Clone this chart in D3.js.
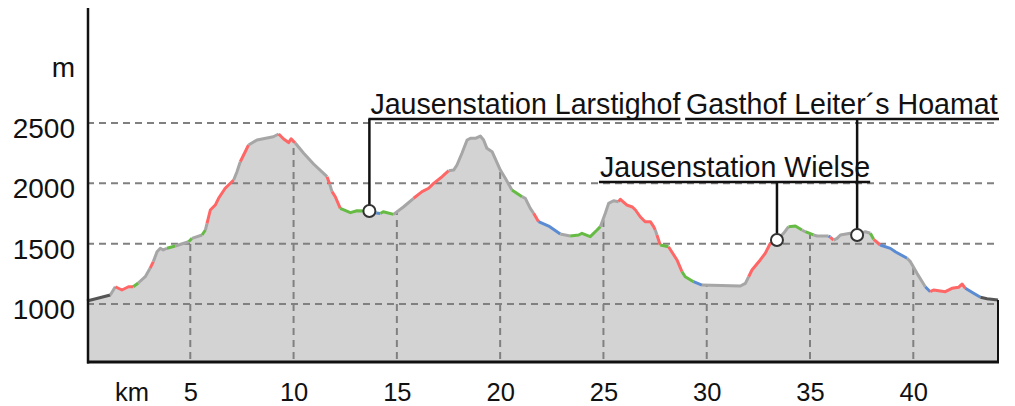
<!DOCTYPE html>
<html>
<head>
<meta charset="utf-8">
<script src="https://cdn.jsdelivr.net/npm/d3@7"></script>
<style>
  body { margin: 0; background: #fff; }
  svg { display: block; font-family: "Liberation Sans", Arial, sans-serif; }
</style>
</head>
<body>
<svg id="profile"></svg>
<script>
// ===============================
// Data
// ===============================
const distKm = [
  0, 1.13, 1.37, 1.69, 2.01, 2.24, 2.48, 2.82, 3.06, 3.21, 3.39, 3.55, 3.69, 3.87, 4.27,
  4.92, 5.08, 5.57, 5.73, 5.81, 5.97, 6.21, 6.37, 6.69, 7.10, 7.26, 7.42, 7.66, 7.82, 8.23,
  9.02, 9.28, 9.52, 9.76, 9.88, 10.08, 10.49, 10.97, 11.62, 11.75, 11.86, 12.02, 12.26, 12.75, 13.07,
  13.67, 14.0, 14.2, 14.34, 14.84, 15.33, 15.81, 16.22, 16.54, 16.78, 17.19, 17.51, 17.75, 17.91, 18.15,
  18.40, 18.56, 18.80, 19.04, 19.20, 19.36, 19.61, 20.01, 20.25, 20.57, 21.06, 21.22, 21.46, 21.62, 21.86,
  22.35, 22.91, 23.39, 23.80, 23.96, 24.36, 24.69, 24.85, 25.09, 25.25, 25.49, 25.73, 25.82, 26.14, 26.40,
  26.55, 26.78, 27.02, 27.27, 27.43, 27.51, 27.59, 27.75, 28.15, 28.56, 28.80, 28.96, 29.36, 29.77, 31.63,
  31.87, 32.03, 32.19, 32.59, 32.83, 33.08, 33.40, 33.72, 33.96, 34.29, 34.61, 34.77, 35.17, 35.34, 35.90,
  35.98, 36.14, 36.31, 36.47, 36.95, 37.28, 37.68, 37.92, 38.08, 38.40, 38.89, 39.13, 39.70, 39.86, 40.18,
  40.58, 40.82, 40.98, 41.55, 41.87, 42.19, 42.36, 42.52, 42.92, 43.25, 43.57, 44.10
];

const elevM = [
  1025, 1075, 1143, 1116, 1143, 1143, 1174, 1226, 1298, 1351, 1433, 1462, 1448, 1462, 1481,
  1516, 1544, 1572, 1613, 1669, 1779, 1820, 1876, 1959, 2028, 2096, 2179, 2262, 2318, 2359,
  2386, 2409, 2367, 2338, 2369, 2334, 2249, 2160, 2055, 1994, 1931, 1889, 1793, 1757, 1773,
  1771, 1754, 1750, 1765, 1743, 1806, 1876, 1931, 1959, 2000, 2055, 2105, 2110, 2152, 2249,
  2359, 2373, 2373, 2392, 2359, 2290, 2262, 2110, 2042, 1945, 1889, 1876, 1793, 1752, 1682,
  1646, 1580, 1564, 1572, 1586, 1558, 1613, 1641, 1752, 1834, 1856, 1848, 1868, 1820, 1804,
  1779, 1723, 1682, 1682, 1641, 1613, 1572, 1489, 1475, 1365, 1268, 1226, 1185, 1157, 1149,
  1171, 1226, 1282, 1365, 1420, 1503, 1530, 1586, 1641, 1646, 1613, 1599, 1572, 1564, 1564,
  1555, 1530, 1544, 1572, 1586, 1572, 1599, 1586, 1536, 1489, 1461, 1433, 1379, 1351, 1254,
  1143, 1102, 1116, 1102, 1130, 1138, 1166, 1130, 1089, 1056, 1044, 1033
];

// surface of the segment that starts at each point
// D asphalt, G gravel, R trail, N meadow path, B forest road
const surface = [
  "D", "G", "R", "R", "R", "N", "G", "G", "R", "G", "G", "G", "G", "N", "G",
  "N", "G", "N", "G", "R", "R", "R", "R", "R", "G", "G", "R", "R", "G", "G",
  "G", "R", "R", "R", "R", "G", "G", "G", "R", "G", "R", "R", "N", "N", "N",
  "N", "B", "N", "N", "G", "G", "R", "R", "R", "R", "R", "G", "G", "G", "G",
  "G", "G", "G", "G", "G", "G", "G", "G", "G", "N", "G", "G", "G", "R", "B",
  "B", "G", "N", "N", "N", "N", "N", "G", "G", "G", "G", "R", "R", "R", "R",
  "R", "R", "R", "R", "R", "G", "R", "N", "R", "R", "N", "N", "B", "G", "G",
  "G", "R", "R", "R", "R", "R", "G", "G", "N", "N", "G", "N", "G", "G", "B",
  "R", "G", "G", "G", "G", "G", "G", "N", "R", "B", "B", "B", "G", "G", "G",
  "B", "R", "R", "R", "R", "R", "R", "B", "B", "D", "D", "D"
];

const xTicks = [5, 10, 15, 20, 25, 30, 35, 40];
const yTicks = [1000, 1500, 2000, 2500];

const stopNames = ["Jausenstation Larstighof", "Jausenstation Wielse", "Gasthof Leiter´s Hoamatl"];
const stopKm = [13.67, 33.40, 37.28];

// ===============================
// Layout
// ===============================
const width = 1015, height = 406;
const colors = { D: "#555555", G: "#a6a6a6", R: "#ff6666", N: "#66bb44", B: "#5b8bd3" };
// label placement: text left offset from leader, baseline y
const labelLayout = [
  { dx: 1, y: 114 },
  { dx: -177, y: 177 },
  { dx: -171, y: 114 }
];

const svg = d3.select("#profile").attr("width", width).attr("height", height);

const x = d3.scaleLinear().domain([0, 44.1]).range([87, 998]);
const y = d3.scaleLinear().domain([1000, 2500]).range([304, 123]);
const yBottom = 362;

const pts = distKm.map((d, i) => ({ km: d, el: elevM[i], s: surface[i] }));

// Area
const area = d3.area()
    .x(d => x(d.km))
    .y0(yBottom)
    .y1(d => y(d.el));

svg.append("clipPath").attr("id", "areaClip")
  .append("path").attr("d", area(pts));

svg.append("path")
    .attr("d", area(pts))
    .attr("fill", "#d3d3d3");

// Horizontal grid
svg.append("g")
  .selectAll("line")
  .data(yTicks)
  .join("line")
    .attr("x1", x(0)).attr("x2", x(44.1))
    .attr("y1", d => y(d)).attr("y2", d => y(d))
    .attr("stroke", "#808080")
    .attr("stroke-width", 2)
    .attr("stroke-dasharray", "7,5");

// Vertical grid (inside the profile only)
svg.append("g")
    .attr("clip-path", "url(#areaClip)")
  .selectAll("line")
  .data(xTicks)
  .join("line")
    .attr("x1", d => x(d)).attr("x2", d => x(d))
    .attr("y1", 100).attr("y2", yBottom)
    .attr("stroke", "#808080")
    .attr("stroke-width", 2)
    .attr("stroke-dasharray", "7,5");

// Profile line, one path per run of equal surface
const runs = [];
for (let i = 0; i < pts.length - 1; i++) {
    const last = runs[runs.length - 1];
    if (last && last.s === pts[i].s) last.pts.push(pts[i + 1]);
    else runs.push({ s: pts[i].s, pts: [pts[i], pts[i + 1]] });
}

const line = d3.line().x(d => x(d.km)).y(d => y(d.el));

svg.append("g")
  .selectAll("path")
  .data(runs)
  .join("path")
    .attr("d", d => line(d.pts))
    .attr("fill", "none")
    .attr("stroke", d => colors[d.s])
    .attr("stroke-width", 3)
    .attr("stroke-linejoin", "round");

// Axes lines
const endPt = pts[pts.length - 1];
svg.append("line")
    .attr("x1", 88).attr("x2", 88).attr("y1", 8).attr("y2", yBottom + 1.5)
    .attr("stroke", "#111").attr("stroke-width", 2.5);
svg.append("line")
    .attr("x1", 87).attr("x2", x(endPt.km) + 1).attr("y1", yBottom).attr("y2", yBottom)
    .attr("stroke", "#111").attr("stroke-width", 3);
svg.append("line")
    .attr("x1", x(endPt.km)).attr("x2", x(endPt.km)).attr("y1", y(endPt.el)).attr("y2", yBottom)
    .attr("stroke", "#111").attr("stroke-width", 2);

// Y axis labels
const yAxis = svg.append("g")
    .attr("transform", "translate(88,0)")
    .call(d3.axisLeft(y).tickValues(yTicks).tickSize(0).tickPadding(13).tickFormat(d3.format("d")));
yAxis.select(".domain").remove();
yAxis.selectAll("text")
    .attr("dy", "0.52em")
    .attr("font-size", 28)
    .attr("font-family", "'Liberation Sans', Arial, sans-serif")
    .attr("fill", "#111");

svg.append("text")
    .attr("x", 75).attr("y", 77)
    .attr("text-anchor", "end")
    .attr("font-size", 28).attr("fill", "#111")
    .text("m");

// X axis labels
const xAxis = svg.append("g")
    .attr("transform", `translate(0,${yBottom})`)
    .call(d3.axisBottom(x).tickValues(xTicks).tickSize(0).tickFormat(d3.format("d")));
xAxis.select(".domain").remove();
xAxis.selectAll("text")
    .attr("y", 38.5).attr("dy", 0)
    .attr("font-size", 25.5)
    .attr("font-family", "'Liberation Sans', Arial, sans-serif")
    .attr("fill", "#111");

svg.append("text")
    .attr("x", 132).attr("y", yBottom + 38.5)
    .attr("text-anchor", "middle")
    .attr("font-size", 25.5).attr("fill", "#111")
    .text("km");

// ===============================
// Stops (annotations)
// ===============================
svg.append("clipPath").attr("id", "plotClip")
  .append("rect").attr("x", 0).attr("y", 0).attr("width", 999).attr("height", height);

const stops = stopNames.map((name, i) => {
    const km = stopKm[i];
    const j = d3.bisector(d => d.km).left(distKm.map(k => ({ km: k })), km);
    const a = pts[Math.max(0, j - 1)], b = pts[Math.min(pts.length - 1, j)];
    const t = b.km === a.km ? 0 : (km - a.km) / (b.km - a.km);
    return { name, km, el: a.el + t * (b.el - a.el), layout: labelLayout[i] };
});

const ann = svg.append("g").attr("clip-path", "url(#plotClip)");

stops.forEach(s => {
    const px = x(s.km), py = y(s.el);
    const tx = px + s.layout.dx;
    const label = ann.append("text")
        .attr("x", tx).attr("y", s.layout.y)
        .attr("font-size", 28.6).attr("fill", "#111")
        .text(s.name);
    const w = label.node().getComputedTextLength();
    ann.append("line")
        .attr("x1", Math.min(tx, px) - 1).attr("x2", tx + w)
        .attr("y1", s.layout.y + 5).attr("y2", s.layout.y + 5)
        .attr("stroke", "#111").attr("stroke-width", 2.5);
    ann.append("line")
        .attr("x1", px).attr("x2", px)
        .attr("y1", s.layout.y + 5).attr("y2", py)
        .attr("stroke", "#111").attr("stroke-width", 2.5);
    ann.append("circle")
        .attr("cx", px).attr("cy", py).attr("r", 6)
        .attr("fill", "#fff").attr("stroke", "#333").attr("stroke-width", 2);
});
</script>
</body>
</html>
